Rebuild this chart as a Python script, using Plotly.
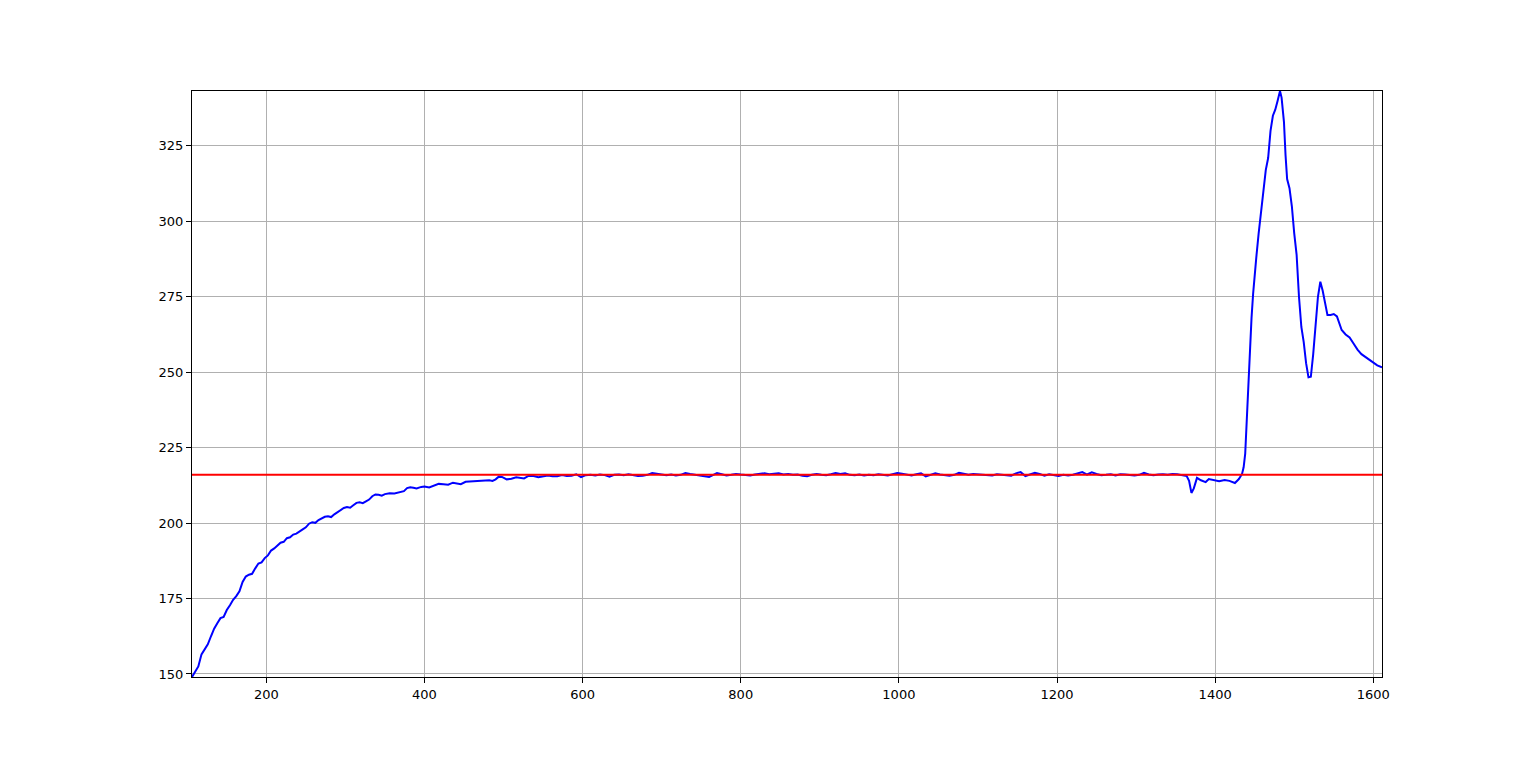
import plotly.graph_objects as go

# Blue series (x, y)
x_vals = [106, 110, 114, 118, 122, 126, 130, 134, 138, 142, 146, 150, 154, 158, 162, 166, 170, 174, 178, 182,
          186, 190, 194, 198, 202, 206, 210, 214, 218, 222, 226, 230, 234, 238, 242, 246, 250, 254, 258, 262,
          266, 270, 274, 278, 282, 286, 290, 294, 298, 302, 306, 310, 314, 318, 322, 326, 330, 334, 338, 342,
          346, 350, 356, 362, 368, 374, 378, 382, 386, 390, 396, 400, 406, 412, 418, 424, 430, 436, 440, 446,
          452, 458, 464, 470, 476, 482, 486, 490, 494, 498, 504, 510, 516, 520, 526, 532, 538, 544, 550, 556,
          562, 568, 574, 580, 586, 592, 598, 604, 610, 616, 622, 628, 634, 640, 646, 652, 658, 664, 670, 676,
          682, 688, 694, 700, 706, 712, 718, 724, 730, 736, 742, 748, 754, 760, 766, 770, 776, 782, 788, 794,
          800, 806, 812, 818, 824, 830, 836, 842, 848, 854, 860, 866, 872, 878, 884, 890, 896, 902, 908, 914,
          920, 926, 932, 938, 944, 950, 956, 962, 968, 974, 980, 986, 992, 998, 1004, 1010, 1016, 1022, 1028, 1034,
          1040, 1046, 1052, 1058, 1064, 1070, 1076, 1082, 1088, 1094, 1100, 1106, 1112, 1118, 1124, 1130, 1136, 1142, 1148, 1154,
          1160, 1166, 1172, 1178, 1184, 1190, 1196, 1202, 1208, 1214, 1220, 1226, 1232, 1238, 1244, 1250, 1256, 1262, 1268, 1274,
          1280, 1286, 1292, 1298, 1304, 1310, 1316, 1322, 1328, 1334, 1340, 1346, 1352, 1358, 1364, 1367, 1370, 1373, 1377, 1382,
          1388, 1392, 1398, 1405, 1412, 1418, 1425, 1430, 1434, 1436, 1438, 1440, 1442, 1444, 1446, 1448, 1450, 1452, 1455, 1458,
          1461, 1464, 1467, 1470, 1473, 1476, 1479, 1482, 1484, 1487, 1489, 1491, 1494, 1497, 1500, 1503, 1506, 1509, 1512, 1515,
          1518, 1521, 1524, 1527, 1530, 1533, 1536, 1539, 1542, 1546, 1550, 1554, 1557, 1560, 1565, 1570, 1575, 1580, 1585, 1590,
          1595, 1600, 1605, 1611]
y_vals = [149.0, 151.0, 152.5, 156.5, 158.3, 159.8, 162.5, 165.0, 166.8, 168.5, 168.9, 171.2, 172.8, 174.6, 175.8, 177.4, 180.5, 182.3, 182.9, 183.2,
          185.0, 186.6, 187.0, 188.4, 189.3, 190.9, 191.6, 192.4, 193.5, 193.8, 195.0, 195.3, 196.2, 196.5, 197.1, 197.9, 198.6, 199.8, 200.3, 200.1,
          201.0, 201.6, 202.1, 202.3, 202.0, 202.9, 203.7, 204.2, 205.0, 205.3, 205.1, 205.9, 206.7, 206.9, 206.6, 207.2, 207.8, 208.9, 209.5, 209.4,
          209.1, 209.6, 209.9, 209.8, 210.2, 210.6, 211.6, 211.9, 211.7, 211.5, 212.0, 212.1, 211.8, 212.4, 213.0, 212.9, 212.7, 213.4, 213.2, 212.9,
          213.7, 213.8, 213.9, 214.1, 214.0, 214.2, 214.0, 214.5, 215.4, 215.3, 214.5, 214.7, 215.2, 215.0, 214.8, 215.7, 215.6, 215.2, 215.4, 215.8,
          215.5, 215.5, 215.9, 215.6, 215.7, 216.2, 215.2, 215.9, 216.0, 215.8, 216.1, 215.9, 215.4, 216.0, 216.1, 215.9, 216.2, 216.0, 215.6, 215.7,
          216.0, 216.6, 216.3, 216.2, 215.9, 216.1, 215.8, 216.0, 216.6, 216.3, 216.0, 215.8, 215.6, 215.3, 216.1, 216.6, 216.2, 215.8, 216.0, 216.3,
          216.1, 216.0, 215.8, 216.1, 216.4, 216.5, 216.2, 216.4, 216.5, 216.1, 216.3, 216.0, 216.1, 215.7, 215.5, 216.0, 216.3, 216.0, 215.9, 216.2,
          216.6, 216.3, 216.5, 216.0, 215.9, 216.1, 215.8, 216.0, 215.9, 216.2, 216.0, 215.8, 216.2, 216.6, 216.4, 216.0, 215.8, 216.2, 216.5, 215.5,
          216.0, 216.5, 216.1, 215.8, 215.7, 216.0, 216.7, 216.4, 216.0, 216.3, 216.2, 215.9, 216.0, 215.8, 216.2, 216.0, 215.9, 215.7, 216.5, 216.9,
          215.6, 216.1, 216.7, 216.3, 215.7, 216.2, 215.8, 215.6, 216.0, 215.8, 216.0, 216.4, 216.9, 216.1, 216.8, 216.3, 215.9, 216.0, 216.2, 215.8,
          216.2, 216.1, 216.0, 215.8, 216.0, 216.7, 216.1, 215.9, 216.1, 216.2, 216.0, 216.3, 216.2, 216.0, 215.6, 214.0, 210.0, 211.5, 215.0, 214.2,
          213.6, 214.6, 214.3, 213.9, 214.3, 214.0, 213.3, 214.6, 216.3, 218.5, 223.0, 235.0, 247.0, 258.0, 268.0, 276.0, 281.0, 288.0, 296.0, 303.0,
          308.0, 317.0, 321.0, 330.0, 335.0, 337.0, 340.0, 343.2, 341.0, 333.0, 322.0, 314.0, 311.0, 305.0, 296.0, 289.0, 275.0, 265.0, 260.0, 253.0,
          248.3, 248.5, 256.0, 266.0, 275.0, 280.0, 277.0, 273.0, 269.0, 269.0, 269.3, 268.5, 266.0, 264.0, 262.5, 261.5, 259.5, 257.5, 256.0, 255.0,
          254.0, 253.2, 252.3, 251.6]

# Red reference level
ref_level = [216.0]

# Axis ticks
x_ticks = [200, 400, 600, 800, 1000, 1200, 1400, 1600]
y_ticks = [150, 175, 200, 225, 250, 275, 300, 325]

x_lo, x_hi = min(x_vals), max(x_vals)
y_lo, y_hi = min(y_vals), max(y_vals)

fig = go.Figure()
fig.add_trace(go.Scatter(x=x_vals, y=y_vals, mode="lines",
                         line=dict(color="#0000ff", width=2), showlegend=False))
fig.add_trace(go.Scatter(x=[x_lo, x_hi], y=[ref_level[0], ref_level[0]], mode="lines",
                         line=dict(color="#ff0000", width=2), showlegend=False))

axis_common = dict(
    showgrid=True, gridcolor="#b0b0b0", gridwidth=1,
    showline=True, linecolor="black", linewidth=1, mirror=True,
    ticks="outside", ticklen=5, tickwidth=1, tickcolor="black",
    zeroline=False,
    tickfont=dict(family="DejaVu Sans", size=13, color="black"),
)

fig.update_xaxes(range=[x_lo, x_hi], tickvals=x_ticks, ticktext=[str(v) for v in x_ticks], **axis_common)
fig.update_yaxes(range=[y_lo, y_hi], tickvals=y_ticks, ticktext=[str(v) for v in y_ticks], **axis_common)

fig.update_layout(
    width=1536, height=761,
    margin=dict(l=184, r=162, t=83, b=92, pad=0),
    plot_bgcolor="white", paper_bgcolor="white",
    font=dict(family="DejaVu Sans"),
)

fig.write_html("out.html")
